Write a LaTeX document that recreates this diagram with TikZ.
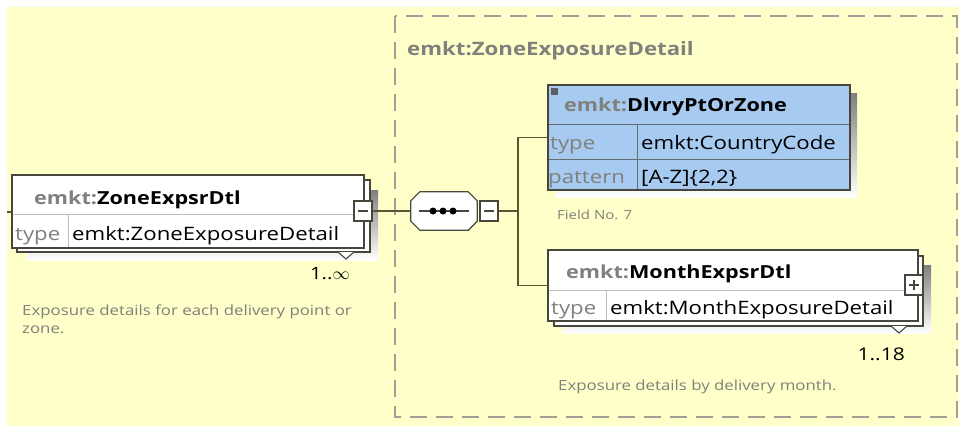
\documentclass[tikz,border=0pt]{standalone}
\usepackage{fontspec}
\setmainfont{Open Sans}[FakeStretch=1.2]
\definecolor{bg}{RGB}{255,255,202}
\definecolor{frame}{RGB}{70,70,60}
\definecolor{shade}{RGB}{192,192,178}
\definecolor{txtgray}{RGB}{128,128,124}
\definecolor{dashc}{RGB}{160,160,150}
\definecolor{blue}{RGB}{166,202,240}
\definecolor{rowline}{RGB}{190,190,190}
\definecolor{conn}{RGB}{90,85,50}
\tikzset{
  boxfront/.style={draw=frame, line width=1.2pt, fill=white, minimum width=#1},
  hdr/.style={anchor=base west, inner sep=0pt, font=\bfseries\fontsize{18}{18}\selectfont},
  rowtxt/.style={anchor=base west, inner sep=0pt, font=\fontsize{18.5}{18.5}\selectfont},
  note/.style={anchor=base west, inner sep=0pt, font=\fontsize{14}{14}\selectfont, text=txtgray},
  connector/.style={draw=conn, line width=1.4pt},
  pm/.style={draw=frame, line width=1.1pt, fill=white, minimum width=18pt, minimum height=20pt, inner sep=0pt},
}
\begin{document}
\begin{tikzpicture}[x=1pt,y=-1pt]
\useasboundingbox (0,0) rectangle (959,426);
\fill[bg] (7,7) rectangle (959,426);
% dashed frame
\draw[dashc, line width=1.6pt, dash pattern=on 17pt off 9pt] (395,16) rectangle (957,417);
\node[anchor=base west, inner sep=0pt, text=txtgray, font=\bfseries\fontsize{18.5}{18.5}\selectfont] (title) at (407,55) {emkt:ZoneExposureDetail};

% ---- left element ZoneExpsrDtl
\fill[shade] (27,190) rectangle (378,260);
\draw[frame, line width=1.1pt, fill=white] (17,180) rectangle (370,252);
\draw[frame, line width=1.1pt, fill=white] (338,252) -- (346,259) -- (354,252);
\node[boxfront=351pt, minimum height=72pt, anchor=north west, inner sep=0pt] (zone) at (12,175) {};
\draw[rowline, line width=1pt] (12,214) -- (363,214);
\draw[rowline, line width=1pt] (68,214) -- (68,247);
\draw[frame, line width=1.2pt] (zone.north west) rectangle (zone.south east);
\node[hdr] (zoneh) at (34,204) {\textcolor{txtgray}{emkt:}ZoneExpsrDtl};
\node[rowtxt, text=txtgray] (zonet) at (15,240) {type};
\node[rowtxt] (zonev) at (72,240) {emkt:ZoneExposureDetail};
\node[pm] (zonem) at (363,211) {};
\draw[frame, line width=1.4pt] ([xshift=-5pt]zonem.center) -- ([xshift=5pt]zonem.center);
\coordinate (lin) at (7,212);
\draw[connector] (lin) -- (zone.west |- lin);
\node[anchor=base east, inner sep=0pt, font=\fontsize{17}{17}\selectfont] (zcard) at (350,279) {1..\textsf{$\infty$}};
\node[note] (znote1) at (22,315) {Exposure details for each delivery point or};
\node[note] (znote2) at (22,333) {zone.};

% ---- sequence
\node[minimum width=66pt, minimum height=38pt, inner sep=0pt] (seq) at (444,211) {};
\fill[shade, shift={(8,8)}]
  ([xshift=9pt]seq.north west) -- ([xshift=-9pt]seq.north east) -- ([yshift=-9pt]seq.north east)
  -- ([yshift=9pt]seq.south east) -- ([xshift=-9pt]seq.south east) -- ([xshift=9pt]seq.south west)
  -- ([yshift=9pt]seq.south west) -- ([yshift=-9pt]seq.north west) -- cycle;
\draw[frame, line width=1.2pt, fill=white]
  ([xshift=9pt]seq.north west) -- ([xshift=-9pt]seq.north east) -- ([yshift=-9pt]seq.north east)
  -- ([yshift=9pt]seq.south east) -- ([xshift=-9pt]seq.south east) -- ([xshift=9pt]seq.south west)
  -- ([yshift=9pt]seq.south west) -- ([yshift=-9pt]seq.north west) -- cycle;
\draw[frame, line width=1.3pt] (419,211) -- (469,211);
\foreach \dx in {433,443,453} \fill[black] (\dx,211) circle (3.5pt);
\node[pm] (seqm) at (489,211) {};
\draw[frame, line width=1.4pt] ([xshift=-5pt]seqm.center) -- ([xshift=5pt]seqm.center);
\draw[connector] (zonem.east) -- (seq.west);
\coordinate (fork) at (518,211);
\draw[connector] (seqm.east) -- (fork);

% ---- DlvryPtOrZone
\fill[shade] (556,93) rectangle (857,197);
\node[draw=frame, line width=1.3pt, fill=blue, minimum width=301pt, minimum height=104pt, anchor=north west, inner sep=0pt] (dlv) at (548,85) {};
\draw[frame!70!blue, line width=0.8pt] (548,124) -- (849,124);
\draw[frame!70!blue, line width=0.8pt] (548,159) -- (849,159);
\draw[frame!70!blue, line width=0.8pt] (637,124) -- (637,189);
\draw[frame, line width=1.3pt] (dlv.north west) rectangle (dlv.south east);
\fill[frame!80!blue] (551,88) rectangle (558,95);
\node[hdr] (dlvh) at (564,111) {\textcolor{txtgray}{emkt:}DlvryPtOrZone};
\node[rowtxt, text=txtgray] (dlvt1) at (550,149) {type};
\node[rowtxt] (dlvv1) at (641,149) {emkt:CountryCode};
\node[rowtxt, text=txtgray] (dlvt2) at (548,183) {pattern};
\node[rowtxt] (dlvv2) at (641,183) {[A-Z]\{2,2\}};
\node[note, font=\fontsize{12.5}{12.5}\selectfont] (field) at (557,219) {Field No. 7};

% ---- MonthExpsrDtl
\fill[shade] (563,265) rectangle (931,333);
\draw[frame, line width=1.1pt, fill=white] (554,256) rectangle (923,326);
\draw[frame, line width=1.1pt, fill=white] (891,326) -- (899,333) -- (907,326);
\node[boxfront=369pt, minimum height=70pt, anchor=north west, inner sep=0pt] (month) at (548,250) {};
\draw[rowline, line width=1pt] (548,290) -- (917,290);
\draw[rowline, line width=1pt] (606,290) -- (606,320);
\draw[frame, line width=1.2pt] (month.north west) rectangle (month.south east);
\node[hdr] (monthh) at (566,278) {\textcolor{txtgray}{emkt:}MonthExpsrDtl};
\node[rowtxt, text=txtgray] (montht) at (551,314) {type};
\node[rowtxt] (monthv) at (610,314) {emkt:MonthExposureDetail};
\node[pm] (monthp) at (914,285) {};
\draw[frame, line width=1.4pt] ([xshift=-5pt]monthp.center) -- ([xshift=5pt]monthp.center);
\draw[frame, line width=1.4pt] ([yshift=-5pt]monthp.center) -- ([yshift=5pt]monthp.center);
\node[anchor=base east, inner sep=0pt, font=\fontsize{17.5}{17.5}\selectfont] (mcard) at (905,360) {1..18};
\node[note] (mnote) at (558,390) {Exposure details by delivery month.};

% ---- connectors
\draw[connector] (fork) |- (dlv.west);
\draw[connector] (fork) |- (month.west);
\end{tikzpicture}
\end{document}
